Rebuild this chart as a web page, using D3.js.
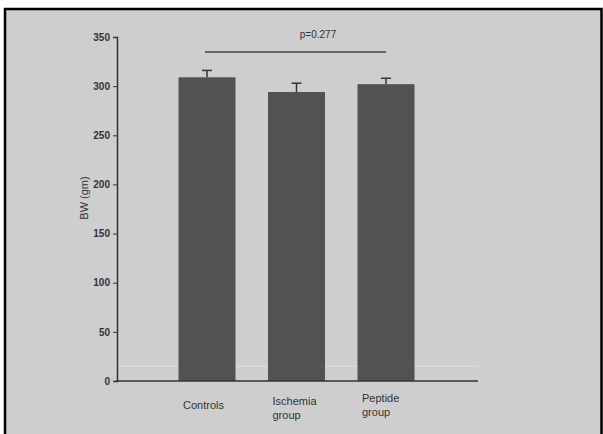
<!DOCTYPE html>
<html><head><meta charset="utf-8">
<script src="https://cdn.jsdelivr.net/npm/d3@7"></script>
<style>body{margin:0;background:#fff}svg{display:block}</style>
</head><body>
<script>
const categories = ["Controls", "Ischemia group", "Peptide group"];
const categoryLines = [["Controls"], ["Ischemia", "group"], ["Peptide", "group"]];
const values = [309, 294, 302];
const errors = [7, 9, 6];
const yTicks = [0, 50, 100, 150, 200, 250, 300, 350];
const pLabel = "p=0.277";
const yLabel = "BW (gm)";

const W = 603, H = 434;
const svg = d3.select("body").append("svg").attr("width", W).attr("height", H);
svg.append("rect").attr("x", 4).attr("y", 8).attr("width", W - 4).attr("height", H - 8).attr("fill", "#cecece");
// frame
svg.append("path").attr("d", `M5,434 V9 H601.5 V434`).attr("fill", "none").attr("stroke", "#000").attr("stroke-width", 2.5);

const y = d3.scaleLinear().domain([0, 350]).range([381, 37]);
const x = d3.scalePoint().domain(categories).range([207, 386]);
const bw = 57;

// faint line near bottom
svg.append("line").attr("x1", 117).attr("x2", 478).attr("y1", y(15)).attr("y2", y(15)).attr("stroke", "#dedede").attr("stroke-width", 1);

// bars
svg.selectAll(".bar").data(categories).enter().append("rect")
  .attr("x", d => x(d) - bw / 2).attr("width", bw)
  .attr("y", (d, i) => y(values[i])).attr("height", (d, i) => y(0) - y(values[i]))
  .attr("fill", "#525252");

// error bars
const eg = svg.selectAll(".err").data(categories).enter().append("g").attr("stroke", "#333").attr("stroke-width", 1.5);
eg.append("line").attr("x1", d => x(d)).attr("x2", d => x(d))
  .attr("y1", (d, i) => y(values[i])).attr("y2", (d, i) => y(values[i] + errors[i]));
eg.append("line").attr("x1", d => x(d) - 5).attr("x2", d => x(d) + 5)
  .attr("y1", (d, i) => y(values[i] + errors[i])).attr("y2", (d, i) => y(values[i] + errors[i]));

// y axis
const ya = svg.append("g").attr("transform", "translate(117,0)")
  .call(d3.axisLeft(y).tickValues(yTicks).tickSize(4).tickPadding(3));
ya.select(".domain").attr("stroke", "#333").attr("stroke-width", 1.5);
ya.selectAll(".tick line").attr("stroke", "#333");
ya.selectAll("text").attr("font-family", "Liberation Sans, Arial").attr("font-size", 10).attr("font-weight", "bold").attr("fill", "#333");

// x axis line
svg.append("line").attr("x1", 116).attr("x2", 478).attr("y1", y(0)).attr("y2", y(0)).attr("stroke", "#333").attr("stroke-width", 1.5);

// y label
svg.append("text").attr("transform", "translate(88,198) rotate(-90)").attr("text-anchor", "middle")
  .attr("font-family", "Liberation Sans, Arial").attr("font-size", 11).attr("fill", "#333").text(yLabel);

// category labels
const xl = svg.selectAll(".cl").data(categories).enter().append("text")
  .attr("x", d => x(d) - 24).attr("y", (d, i) => i === 0 ? 409 : (i === 1 ? 405 : 402))
  .attr("font-family", "Liberation Sans, Arial").attr("font-size", 11).attr("fill", "#333");
xl.selectAll("tspan").data((d, i) => categoryLines[i]).enter().append("tspan")
  .attr("x", function () { return d3.select(this.parentNode).attr("x"); })
  .attr("dy", (d, j) => j === 0 ? 0 : 14).text(d => d);

// significance
svg.append("line").attr("x1", 205).attr("x2", 386).attr("y1", 52).attr("y2", 52).attr("stroke", "#444").attr("stroke-width", 1.5);
svg.append("text").attr("x", 318).attr("y", 38).attr("text-anchor", "middle")
  .attr("font-family", "Liberation Sans, Arial").attr("font-size", 10).attr("fill", "#333").text(pLabel);
</script>
</body></html>
